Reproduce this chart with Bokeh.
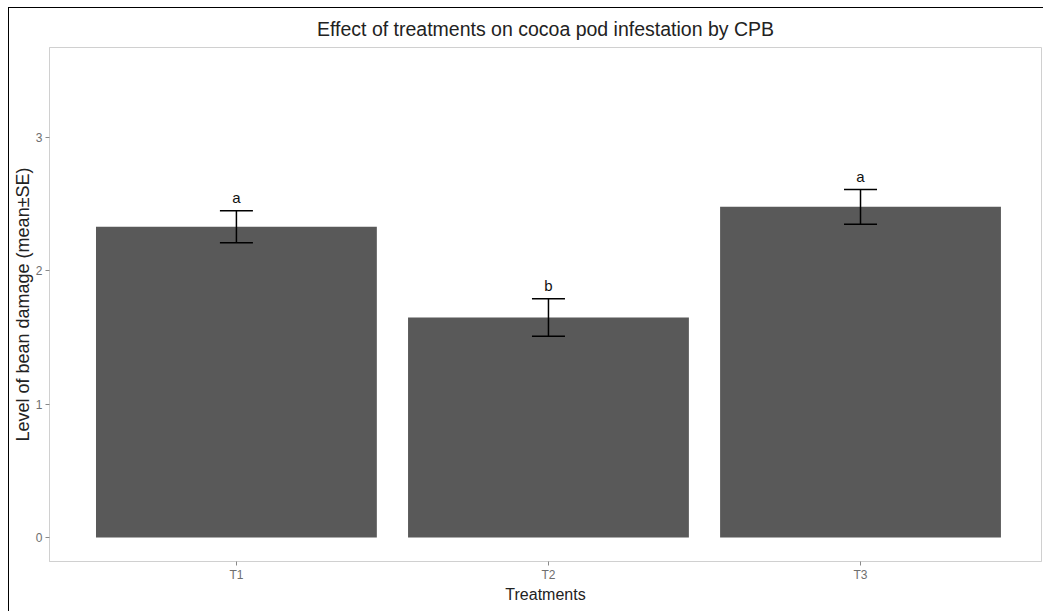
from bokeh.plotting import figure
from bokeh.models import ColumnDataSource, Whisker, TeeHead, Range1d, FixedTicker
from bokeh.embed import file_html
from bokeh.resources import INLINE
from bokeh.core.properties import value

# ---- data ----
treatments = ["T1", "T2", "T3"]
means = [2.33, 1.65, 2.48]
se = [0.12, 0.14, 0.13]
letters = ["a", "b", "a"]
y_ticks = [0, 1, 2, 3]

xs = list(range(1, len(treatments) + 1))
upper = [m + s for m, s in zip(means, se)]
lower = [m - s for m, s in zip(means, se)]

src = ColumnDataSource(dict(x=xs, mean=means, upper=upper, lower=lower,
                            letter=letters, name=treatments))

FONT = "Liberation Sans"

p = figure(width=1035, height=604, output_backend="svg", toolbar_location=None,
           x_range=Range1d(0.401, 3.58), y_range=Range1d(-0.18, 3.675),
           min_border_left=40, min_border_right=3, min_border_top=39,
           min_border_bottom=51, background_fill_color="white",
           border_fill_color="white")
p.styles = {"margin-left": "8px", "margin-top": "7px",
            "border-left": "1px solid black", "border-top": "1px solid black"}

p.title.text = "Effect of treatments on cocoa pod infestation by CPB"
p.title.align = "center"
p.title.text_font = FONT
p.title.text_font_size = "19.5px"
p.title.text_font_style = "normal"
p.title.text_color = "#222222"
p.title.standoff = 15

p.vbar(x="x", top="mean", bottom=0, width=0.9, source=src,
       fill_color="#595959", line_color=None)

w = Whisker(base="x", upper="upper", lower="lower", source=src,
            line_color="black", line_width=1.5, level="annotation",
            upper_head=TeeHead(size=33, line_color="black", line_width=1.5),
            lower_head=TeeHead(size=33, line_color="black", line_width=1.5))
p.add_layout(w)

p.text(x="x", y="upper", text="letter", source=src, y_offset=-5,
       text_align="center", text_baseline="bottom", text_font=value(FONT),
       text_font_size="15px", text_color="#111111")

p.xgrid.grid_line_color = None
p.ygrid.grid_line_color = None
p.outline_line_color = "#d0d0d0"
p.outline_line_width = 1

p.xaxis.ticker = FixedTicker(ticks=xs)
p.xaxis.major_label_overrides = {x: t for x, t in zip(xs, treatments)}
p.yaxis.ticker = FixedTicker(ticks=y_ticks)

for ax in (p.xaxis[0], p.yaxis[0]):
    ax.axis_line_color = "#d0d0d0"
    ax.major_tick_line_color = "#8a8a8a"
    ax.major_tick_out = 4
    ax.major_tick_in = 0
    ax.minor_tick_line_color = None
    ax.major_label_text_font = FONT
    ax.major_label_text_font_size = "12px"
    ax.major_label_text_color = "#6e6e6e"
    ax.axis_label_text_font = FONT
    ax.axis_label_text_font_style = "normal"
    ax.axis_label_text_color = "#222222"

p.xaxis.axis_label = "Treatments"
p.xaxis.axis_label_text_font_size = "16px"
p.xaxis.major_label_standoff = 2
p.xaxis.axis_label_standoff = 1
p.yaxis.axis_label = "Level of bean damage (mean±SE)"
p.yaxis.axis_label_text_font_size = "18px"
p.yaxis.major_label_standoff = 3
p.yaxis.axis_label_standoff = 0

open("out.html", "w").write(file_html(p, INLINE))
